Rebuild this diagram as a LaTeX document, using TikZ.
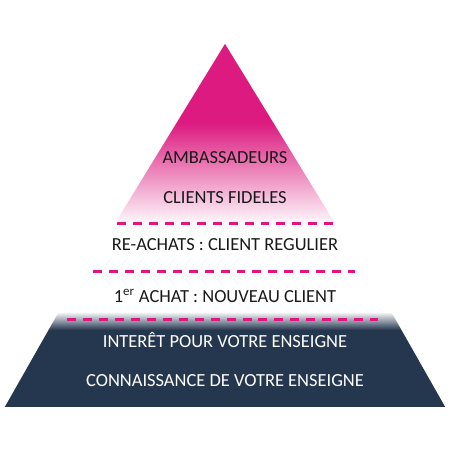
\documentclass[tikz,border=0pt]{standalone}
\usepackage{fontspec}
\setmainfont{Carlito}
\usetikzlibrary{positioning}
\usepackage{xcolor}
\definecolor{pyramidpink}{HTML}{DC1A7F}
\definecolor{dashpink}{HTML}{E0157F}
\definecolor{basenavy}{HTML}{25364F}
\pgfdeclareverticalshading{pinkfade}{100bp}{color(0bp)=(pyramidpink!3); color(25bp)=(pyramidpink!3); color(53bp)=(pyramidpink); color(100bp)=(pyramidpink)}
\pgfdeclareverticalshading{navyfade}{100bp}{color(0bp)=(basenavy); color(66bp)=(basenavy); color(75bp)=(basenavy!8); color(100bp)=(basenavy!8)}
\tikzset{
  level/.style={font=\fontsize{14}{16}\selectfont, text=black!90},
  base level/.style={level, text=white},
  divider/.style={draw=dashpink, line width=2.3pt, dash pattern=on 6.8pt off 5.3pt}
}

\begin{document}
\begin{tikzpicture}
  \useasboundingbox (0,0) rectangle (12,12);
  % Top: pink triangle
  \coordinate (apex) at (6,10.83);
  \coordinate (pinkL) at (3.07,6.05);
  \coordinate (pinkR) at (8.93,6.05);
  \shade[shading=pinkfade] (apex) -- (pinkR) -- (pinkL) -- cycle;
  % Bottom: navy trapezoid
  \coordinate (baseTL) at (1.55,3.65);
  \coordinate (baseTR) at (10.45,3.65);
  \coordinate (baseBR) at (11.87,1.15);
  \coordinate (baseBL) at (0.13,1.15);
  \shade[shading=navyfade] (baseTL) -- (baseTR) -- (baseBR) -- (baseBL) -- cycle;
  % Dividers
  \coordinate (d1L) at (3.12,6.05);  \coordinate (d1R) at (8.93,6.05);
  \coordinate (d2L) at (2.48,4.75);  \coordinate (d2R) at (9.47,4.75);
  \coordinate (d3L) at (1.79,3.49);  \coordinate (d3R) at (10.08,3.49);
  \draw[divider] (d1L) -- (d1R);
  \draw[divider] (d2L) -- (d2R);
  \draw[divider] (d3L) -- (d3R);
  % Labels
  \node[level] (ambassadeurs) at (6,7.79) {AMBASSADEURS};
  \node[level] (fideles) at (6,6.72) {CLIENTS FIDELES};
  \node[level] (reachats) at (6,5.47) {RE-ACHATS : CLIENT REGULIER};
  \node[level] (premier) at (6,4.11) {1\textsuperscript{er} ACHAT : NOUVEAU CLIENT};
  \node[base level] (interet) at (6,2.93) {INTERÊT POUR VOTRE ENSEIGNE};
  \node[base level] (connaissance) at (6,1.84) {CONNAISSANCE DE VOTRE ENSEIGNE};
\end{tikzpicture}
\end{document}
